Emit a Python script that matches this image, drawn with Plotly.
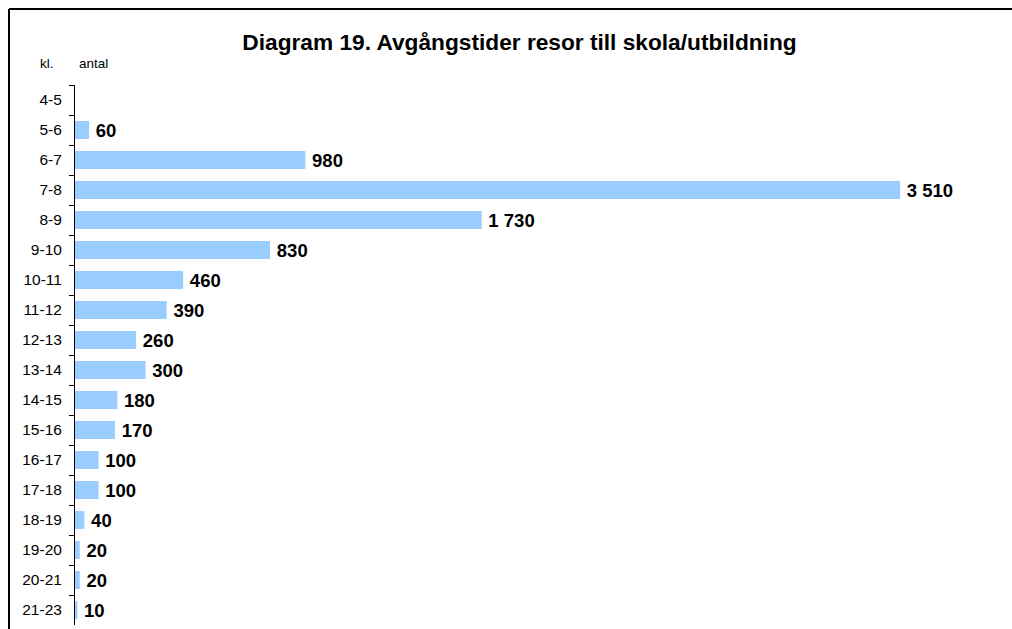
import plotly.graph_objects as go

categories = ["4-5", "5-6", "6-7", "7-8", "8-9", "9-10", "10-11", "11-12", "12-13",
              "13-14", "14-15", "15-16", "16-17", "17-18", "18-19", "19-20", "20-21", "21-23"]
values = [0, 60, 980, 3510, 1730, 830, 460, 390, 260, 300, 180, 170, 100, 100, 40, 20, 20, 10]

labels = [("\u2009" + "{:,}".format(v).replace(",", " ") if v > 0 else "") for v in values]

W, H = 1012, 629
L, R, T, B = 75, 12, 85, 4
pw, ph = W - L - R, H - T - B

def px(x):
    return (x - L) / pw

def py(y):
    return (H - B - y) / ph

fig = go.Figure(go.Bar(
    y=categories, x=values, orientation="h",
    marker=dict(color="#99CCFF", line=dict(width=0)),
    text=labels, textposition="outside", cliponaxis=False, constraintext="none",
    textfont=dict(family="Liberation Sans, Arial", size=18.5, color="black", weight="bold"),
))

fig.update_layout(
    width=W, height=H,
    margin=dict(l=L, r=R, t=T, b=B),
    paper_bgcolor="white", plot_bgcolor="white",
    bargap=0.4,
    showlegend=False,
    font=dict(family="Liberation Sans, Arial", color="black"),
    title=dict(text="<b>Diagram 19. Avgångstider resor till skola/utbildning</b>",
               x=519.5 / W, y=1 - 42 / H, xref="container", yref="container",
               xanchor="center", yanchor="middle",
               font=dict(size=22.7, family="Liberation Sans, Arial", color="black")),
    xaxis=dict(range=[0, 3935], visible=False, fixedrange=True),
    yaxis=dict(type="category", autorange="reversed", showline=True, linecolor="black", linewidth=1,
               ticks="outside", tickson="boundaries", ticklen=5, tickcolor="black",
               tickfont=dict(size=15.5, family="Liberation Sans, Arial", color="black"),
               showgrid=False, zeroline=False, ticklabelstandoff=9, fixedrange=True),
    annotations=[
        dict(text="kl.", x=px(46.5), y=py(63), xref="paper", yref="paper", showarrow=False,
             xanchor="center", yanchor="middle", font=dict(size=13.5)),
        dict(text="antal", x=px(93), y=py(63), xref="paper", yref="paper", showarrow=False,
             xanchor="center", yanchor="middle", font=dict(size=13.5)),
    ],
    shapes=[
        dict(type="line", xref="paper", yref="paper", x0=px(9), x1=px(1012), y0=py(9), y1=py(9),
             line=dict(color="black", width=2)),
        dict(type="line", xref="paper", yref="paper", x0=px(9), x1=px(9), y0=py(9), y1=py(629),
             line=dict(color="black", width=2)),
    ],
)

fig.write_html("out.html", config={"displayModeBar": False},
               post_script="document.body.style.margin='0';")
